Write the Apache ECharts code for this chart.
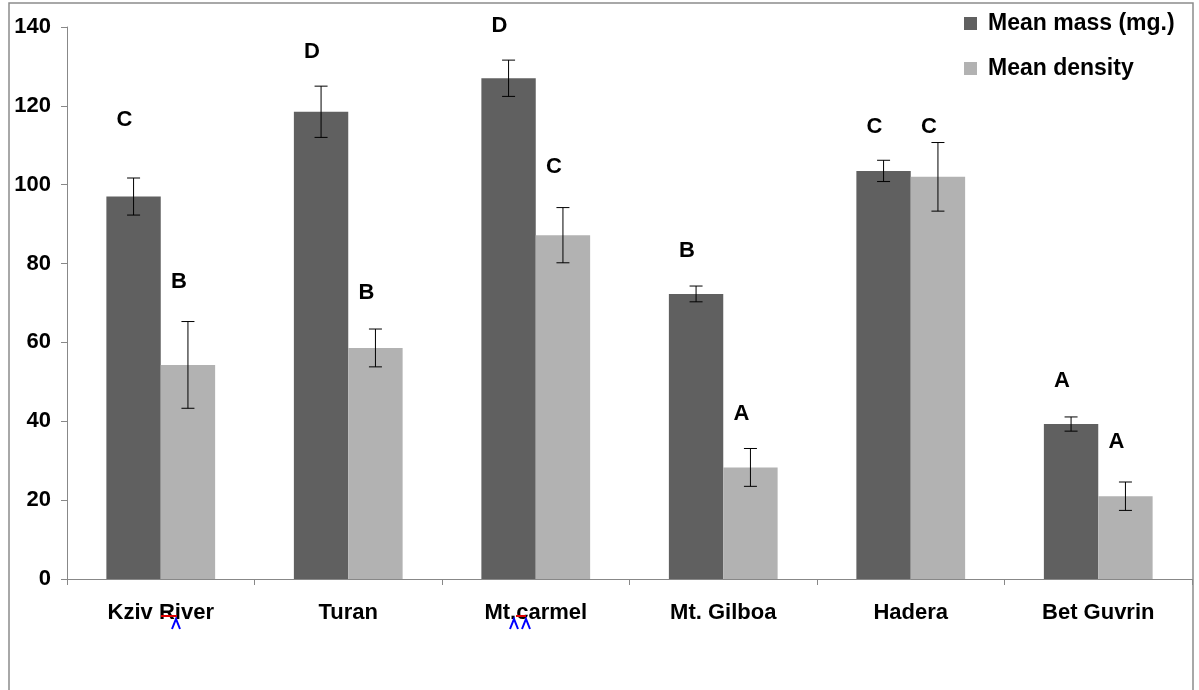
<!DOCTYPE html>
<html>
<head>
<meta charset="utf-8">
<script src="https://cdn.jsdelivr.net/npm/echarts@6/dist/echarts.min.js"></script>
<style>
  html, body { margin: 0; padding: 0; background: #fff; }
  #chart { width: 1199px; height: 690px; }
</style>
</head>
<body>
<div id="chart"></div>
<script>
var sites = ["Kziv River", "Turan", "Mt.carmel", "Mt. Gilboa", "Hadera", "Bet Guvrin"];
var massMean = [97, 118.5, 127, 72.3, 103.5, 39.3];
var massErr = [4.7, 6.5, 4.6, 2, 2.7, 1.8];
var massLetter = ["C", "D", "D", "B", "C", "A"];
var massLetterY = [116.4, 133.6, 140.2, 83.3, 114.6, 50.3];
var densMean = [54.3, 58.6, 87.2, 28.3, 102, 21];
var densErr = [11, 4.8, 7, 4.8, 8.7, 3.6];
var densLetter = ["B", "B", "C", "A", "C", "A"];
var densLetterY = [75.3, 72.5, 104.5, 41.8, 114.6, 34.8];

var FONT = '"Liberation Sans", Arial, sans-serif';
var GAP = 0.42;

function errData(mean, err, ly) {
  return mean.map(function (m, i) { return [i, m, err[i], ly[i]]; });
}

function makeRender(side, letters) {
  return function (params, api) {
    var i = api.value(0), m = api.value(1), e = api.value(2);
    var band = api.size([1, 0])[0];
    var px = api.coord([i, m])[0] + side * band * (1 - GAP) / 4;
    var yTop = api.coord([i, m + e])[1];
    var yBot = api.coord([i, m - e])[1];
    var yL = api.coord([i, api.value(3)])[1];
    var st = { stroke: '#000', lineWidth: 1 };
    return {
      type: 'group',
      children: [
        { type: 'line', shape: { x1: px, y1: yTop, x2: px, y2: yBot }, style: st },
        { type: 'line', shape: { x1: px - 6.5, y1: yTop, x2: px + 6.5, y2: yTop }, style: st },
        { type: 'line', shape: { x1: px - 6.5, y1: yBot, x2: px + 6.5, y2: yBot }, style: st },
        { type: 'text', x: px - 9, y: yL, style: { text: letters[params.dataIndex],
            fill: '#000', font: 'bold 22px ' + FONT, align: 'center', verticalAlign: 'middle' } }
      ]
    };
  };
}

var chart = echarts.init(document.getElementById('chart'));
var option = {
  animation: false,
  backgroundColor: '#fff',
  textStyle: { fontFamily: FONT },
  grid: { left: 67, right: 7, top: 27, bottom: 111 },
  legend: {
    orient: 'vertical',
    left: 959,
    top: 7,
    icon: 'rect',
    itemWidth: 13,
    itemHeight: 13,
    itemGap: 22,
    textStyle: { fontSize: 23, fontWeight: 'bold', color: '#000', fontFamily: FONT, padding: [0, 0, 0, 6] },
    data: ['Mean mass (mg.)', 'Mean density']
  },
  xAxis: {
    type: 'category',
    data: sites,
    axisLine: { lineStyle: { color: '#888', width: 1 } },
    axisTick: { show: true, length: 6, lineStyle: { color: '#888' } },
    axisLabel: { color: '#000', fontWeight: 'bold', fontSize: 22, fontFamily: FONT, margin: 23, interval: 0 },
    splitLine: { show: false }
  },
  yAxis: {
    type: 'value',
    min: 0,
    max: 140,
    interval: 20,
    axisLine: { show: true, lineStyle: { color: '#888', width: 1 } },
    axisTick: { show: true, length: 6, lineStyle: { color: '#888' } },
    axisLabel: { color: '#000', fontWeight: 'bold', fontSize: 22, fontFamily: FONT, margin: 16 },
    splitLine: { show: false }
  },
  series: [
    {
      name: 'Mean mass (mg.)', type: 'bar', data: massMean,
      barGap: '0%', barCategoryGap: (GAP * 100) + '%',
      itemStyle: { color: '#606060' }
    },
    {
      name: 'Mean density', type: 'bar', data: densMean,
      barGap: '0%', barCategoryGap: (GAP * 100) + '%',
      itemStyle: { color: '#b2b2b2' }
    },
    {
      type: 'custom', renderItem: makeRender(-1, massLetter), data: errData(massMean, massErr, massLetterY),
      encode: { x: 0, y: 1 }, clip: false, z: 10, silent: true
    },
    {
      type: 'custom', renderItem: makeRender(1, densLetter), data: errData(densMean, densErr, densLetterY),
      encode: { x: 0, y: 1 }, clip: false, z: 10, silent: true
    }
  ],
  graphic: [
    { type: 'rect', shape: { x: 9, y: 3, width: 1184, height: 720 }, style: { fill: 'none', stroke: '#8c8c8c', lineWidth: 1.5 }, z: -1, silent: true },
    // spell-check marks under the axis labels
    { type: 'line', shape: { x1: 161, y1: 616, x2: 177, y2: 616 }, style: { stroke: '#e00000', lineWidth: 2 }, z: 20 },
    { type: 'polyline', shape: { points: [[172, 629], [176, 619], [180, 629]] }, style: { stroke: '#0000ff', lineWidth: 2, fill: 'none' }, z: 20 },
    { type: 'line', shape: { x1: 516, y1: 616, x2: 526, y2: 616 }, style: { stroke: '#e00000', lineWidth: 2 }, z: 20 },
    { type: 'polyline', shape: { points: [[510, 629], [514, 619], [518, 629]] }, style: { stroke: '#0000ff', lineWidth: 2, fill: 'none' }, z: 20 },
    { type: 'polyline', shape: { points: [[522, 629], [526, 619], [530, 629]] }, style: { stroke: '#0000ff', lineWidth: 2, fill: 'none' }, z: 20 }
  ]
};
chart.setOption(option);
</script>
</body>
</html>
